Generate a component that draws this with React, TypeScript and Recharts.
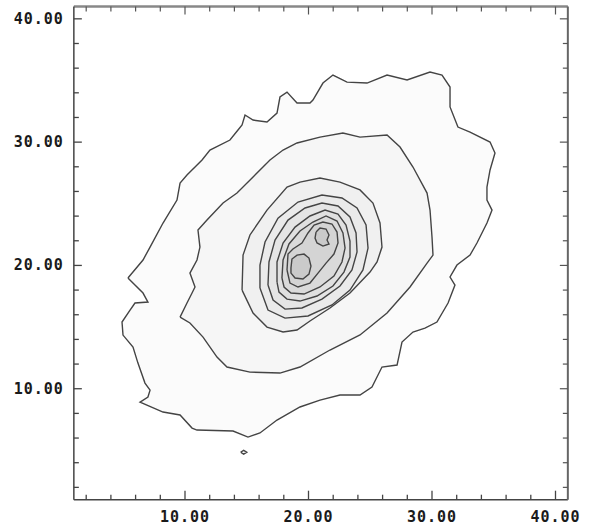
import { ScatterChart, Scatter, XAxis, YAxis } from "recharts";

// axis ticks: minor every 2 units, labelled majors every 10
const xTicks = [2, 4, 6, 8, 10, 12, 14, 16, 18, 20, 22, 24, 26, 28, 30, 32, 34, 36, 38, 40];
const yTicks = [2, 4, 6, 8, 10, 12, 14, 16, 18, 20, 22, 24, 26, 28, 30, 32, 34, 36, 38, 40];
const majorTicks = [10, 20, 30, 40];

// contour rings, outermost first, as [x, y] pairs
const level1: [number, number][] = [
  [5.38, 18.98], [6.6, 20.44], [7.17, 21.49], [8.22, 23.44], [9.35, 25.3], [9.6, 26.68],
  [10.16, 27.33], [11.38, 28.55], [12.02, 29.36], [13.64, 30.17], [14.29, 30.98], [14.62, 31.39],
  [14.86, 32.2], [15.51, 31.79], [16.64, 31.63], [17.45, 32.36], [17.69, 33.66], [18.26, 34.06],
  [19.07, 33.17], [20.12, 33.17], [20.36, 33.41], [21.17, 34.79], [21.98, 35.44], [23.12, 34.87],
  [24.74, 34.79], [26.36, 35.44], [27.98, 35.04], [29.84, 35.68], [30.81, 35.44], [31.46, 34.47],
  [31.46, 32.85], [32.1, 31.22], [33.08, 30.82], [34.7, 30.01], [35.1, 29.12], [34.7, 27.74],
  [34.45, 26.36], [34.45, 25.3], [34.86, 24.49], [34.45, 23.44], [33.64, 21.82], [33.08, 20.84],
  [32.02, 20.03], [31.46, 19.06], [31.86, 18.41], [31.3, 16.95], [30.4, 15.41], [29.43, 14.92],
  [28.46, 14.6], [27.57, 13.79], [27.17, 11.92], [25.95, 11.76], [25.14, 10.14], [24.17, 9.49],
  [22.55, 9.49], [20.93, 9.08], [19.31, 8.52], [17.45, 7.46], [16.07, 6.41], [15.1, 6.08],
  [13.89, 6.57], [10.97, 6.65], [10.57, 6.81], [9.6, 7.87], [8.22, 8.11], [6.36, 8.92],
  [7.0, 9.33], [7.17, 9.89], [6.76, 10.46], [6.19, 12.08], [5.79, 13.38], [4.98, 14.35],
  [4.9, 15.41], [5.55, 16.38], [5.95, 16.95], [7.0, 17.03], [6.6, 17.76], [5.38, 18.98],
];

const speck: [number, number][] = [
  [14.5, 4.85], [14.75, 5.0], [15.0, 4.85], [14.75, 4.7], [14.5, 4.85],
];

const level2: [number, number][] = [
  [9.6, 15.81], [10.16, 16.95], [10.57, 17.76], [10.81, 18.25], [10.4, 19.38], [10.97, 20.44],
  [11.21, 21.49], [11.05, 22.87], [11.78, 23.68], [13.08, 25.06], [14.21, 25.87], [15.51, 27.17],
  [16.88, 28.55], [17.94, 29.36], [19.07, 29.93], [20.93, 30.41], [22.79, 30.74], [24.17, 30.41],
  [26.36, 30.58], [27.41, 29.6], [28.46, 27.98], [29.6, 25.87], [29.84, 24.49], [30.0, 22.3],
  [30.08, 20.84], [29.6, 20.19], [28.22, 18.25], [26.36, 16.14], [24.17, 14.36], [21.74, 13.14],
  [19.31, 11.76], [17.69, 11.27], [15.26, 11.35], [13.4, 11.76], [12.59, 12.57], [11.46, 14.19],
  [10.4, 15.33], [9.6, 15.81],
];

const level3: [number, number][] = [
  [14.62, 18.0], [14.7, 20.84], [15.26, 22.47], [16.64, 24.49], [18.26, 26.36], [19.31, 26.76],
  [20.93, 27.09], [22.55, 26.76], [24.17, 26.12], [25.22, 25.06], [25.79, 23.44], [25.95, 21.49],
  [25.55, 20.28], [24.98, 19.46], [23.36, 17.76], [21.74, 16.55], [20.12, 15.49], [19.07, 14.76],
  [17.94, 14.6], [16.64, 15.0], [15.51, 16.14], [14.62, 18.0],
];

const level4: [number, number][] = [
  [16.07, 18.17], [16.07, 20.03], [16.48, 21.9], [17.53, 23.84], [19.15, 25.14], [21.09, 25.71],
  [22.71, 25.47], [23.93, 24.66], [24.66, 23.28], [24.82, 21.41], [24.41, 19.63], [23.36, 18.0],
  [21.9, 16.79], [19.96, 15.9], [18.1, 15.73], [16.72, 16.38], [16.07, 18.17],
];

const level5: [number, number][] = [
  [16.72, 18.41], [16.8, 20.28], [17.29, 22.06], [18.34, 23.68], [19.72, 24.66], [21.09, 25.06],
  [22.39, 24.82], [23.36, 23.93], [23.85, 22.63], [23.93, 21.09], [23.52, 19.63], [22.55, 18.33],
  [21.09, 17.27], [19.47, 16.55], [18.1, 16.46], [17.13, 17.19], [16.72, 18.41],
];

const level6: [number, number][] = [
  [17.45, 18.65], [17.45, 20.28], [17.94, 21.82], [18.91, 23.11], [20.12, 24.01], [21.34, 24.49],
  [22.39, 24.17], [23.04, 23.28], [23.36, 21.98], [23.36, 20.68], [22.87, 19.46], [21.98, 18.33],
  [20.69, 17.52], [19.31, 17.11], [18.26, 17.27], [17.61, 17.84], [17.45, 18.65],
];

const level7: [number, number][] = [
  [17.85, 18.98], [17.94, 20.44], [18.42, 21.74], [19.31, 22.79], [20.36, 23.52], [21.42, 24.01],
  [22.31, 23.6], [22.79, 22.63], [22.96, 21.41], [22.71, 20.28], [22.06, 19.14], [20.93, 18.25],
  [19.64, 17.68], [18.58, 17.76], [18.02, 18.25], [17.85, 18.98],
];

const level8: [number, number][] = [
  [18.26, 19.63], [18.34, 20.92], [18.74, 21.33], [19.47, 21.82], [19.96, 22.63], [20.45, 23.28],
  [21.17, 23.52], [21.9, 23.36], [22.31, 22.71], [22.39, 21.82], [22.06, 20.92], [21.42, 20.19],
  [20.77, 19.38], [20.12, 18.57], [19.15, 18.25], [18.5, 18.57], [18.26, 19.63],
];

const level9a: [number, number][] = [
  [18.58, 19.79], [18.66, 20.52], [19.07, 20.84], [19.64, 20.92], [20.04, 20.6], [20.2, 19.95],
  [20.04, 19.3], [19.55, 18.9], [18.91, 18.98], [18.58, 19.38], [18.58, 19.79],
];

const level9b: [number, number][] = [
  [20.61, 22.71], [20.93, 23.03], [21.42, 22.95], [21.66, 22.47], [21.5, 22.06], [21.66, 21.74],
  [21.17, 21.57], [20.69, 21.82], [20.53, 22.22], [20.61, 22.71],
];

const contours = [
  { id: "l1", pts: level1, fill: "#fbfbfb" },
  { id: "speck", pts: speck, fill: "#fbfbfb" },
  { id: "l2", pts: level2, fill: "#f6f6f6" },
  { id: "l3", pts: level3, fill: "#f0f0f0" },
  { id: "l4", pts: level4, fill: "#eaeaea" },
  { id: "l5", pts: level5, fill: "#e5e5e5" },
  { id: "l6", pts: level6, fill: "#e0e0e0" },
  { id: "l7", pts: level7, fill: "#dadada" },
  { id: "l8", pts: level8, fill: "#d4d4d4" },
  { id: "l9a", pts: level9a, fill: "#cacaca" },
  { id: "l9b", pts: level9b, fill: "#cacaca" },
];

const labelStyle = {
  fontFamily: "'DejaVu Sans Mono', monospace",
  fontWeight: 700,
  fontSize: 15,
  letterSpacing: 1,
  fill: "#1a1a1a",
};

const fmt = (v: number) => v.toFixed(2);

// eslint-disable-next-line @typescript-eslint/no-explicit-any
function BottomTick({ x, y, payload }: any) {
  const major = majorTicks.includes(payload.value);
  return (
    <g>
      <line x1={x} y1={y} x2={x} y2={y - (major ? 9 : 5)} stroke="#444" strokeWidth={1.3} />
      {major && (
        <text x={x} y={y + 22} textAnchor="middle" style={labelStyle}>
          {fmt(payload.value)}
        </text>
      )}
    </g>
  );
}

// eslint-disable-next-line @typescript-eslint/no-explicit-any
function LeftTick({ x, y, payload }: any) {
  const major = majorTicks.includes(payload.value);
  return (
    <g>
      <line x1={x} y1={y} x2={x + (major ? 8 : 5)} y2={y} stroke="#444" strokeWidth={1.3} />
      {major && (
        <text x={x - 10} y={y + 5} textAnchor="end" style={labelStyle}>
          {fmt(payload.value)}
        </text>
      )}
    </g>
  );
}

// eslint-disable-next-line @typescript-eslint/no-explicit-any
function TopTick({ x, y, payload }: any) {
  const major = majorTicks.includes(payload.value);
  return <line x1={x} y1={y} x2={x} y2={y + (major ? 8 : 5)} stroke="#555" strokeWidth={1.2} />;
}

// eslint-disable-next-line @typescript-eslint/no-explicit-any
function RightTick({ x, y, payload }: any) {
  const major = majorTicks.includes(payload.value);
  return <line x1={x} y1={y} x2={x - (major ? 8 : 5)} y2={y} stroke="#555" strokeWidth={1.2} />;
}

const noDot = () => <g />;

export default function App() {
  return (
    <div style={{ position: "absolute", left: 0, top: 0, width: 589, height: 527, background: "#fff" }}>
      <ScatterChart
        width={589}
        height={527}
        margin={{ top: 5.5, right: 20.15, bottom: 26.3, left: 72.85 }}
      >
        <XAxis
          xAxisId="b"
          type="number"
          dataKey="x"
          domain={[1, 41]}
          ticks={xTicks}
          interval={0}
          height={1}
          tickSize={0}
          tickMargin={0}
          tick={<BottomTick />}
          axisLine={{ stroke: "#444", strokeWidth: 1.5 }}
          allowDataOverflow
        />
        <XAxis
          xAxisId="t"
          orientation="top"
          type="number"
          dataKey="x"
          domain={[1, 41]}
          ticks={xTicks}
          interval={0}
          height={1}
          tickSize={0}
          tickMargin={0}
          tick={<TopTick />}
          axisLine={{ stroke: "#888", strokeWidth: 2.5 }}
          allowDataOverflow
        />
        <YAxis
          yAxisId="l"
          type="number"
          dataKey="y"
          domain={[1, 41]}
          ticks={yTicks}
          interval={0}
          width={1}
          tickSize={0}
          tickMargin={0}
          tick={<LeftTick />}
          axisLine={{ stroke: "#444", strokeWidth: 1.5 }}
          allowDataOverflow
        />
        <YAxis
          yAxisId="r"
          orientation="right"
          type="number"
          dataKey="y"
          domain={[1, 41]}
          ticks={yTicks}
          interval={0}
          width={1}
          tickSize={0}
          tickMargin={0}
          tick={<RightTick />}
          axisLine={{ stroke: "#666", strokeWidth: 2 }}
          allowDataOverflow
        />
        {contours.map((c) => (
          <Scatter
            key={c.id}
            xAxisId="b"
            yAxisId="l"
            data={c.pts.map(([x, y]) => ({ x, y }))}
            line={{ stroke: "#444", strokeWidth: 1.4, fill: c.fill }}
            lineType="joint"
            shape={noDot}
            isAnimationActive={false}
          />
        ))}
        {/* keep the top/right frame axes bound to a series */}
        <Scatter
          xAxisId="t"
          yAxisId="r"
          data={[{ x: 1, y: 1 }]}
          shape={noDot}
          isAnimationActive={false}
        />
      </ScatterChart>
    </div>
  );
}
